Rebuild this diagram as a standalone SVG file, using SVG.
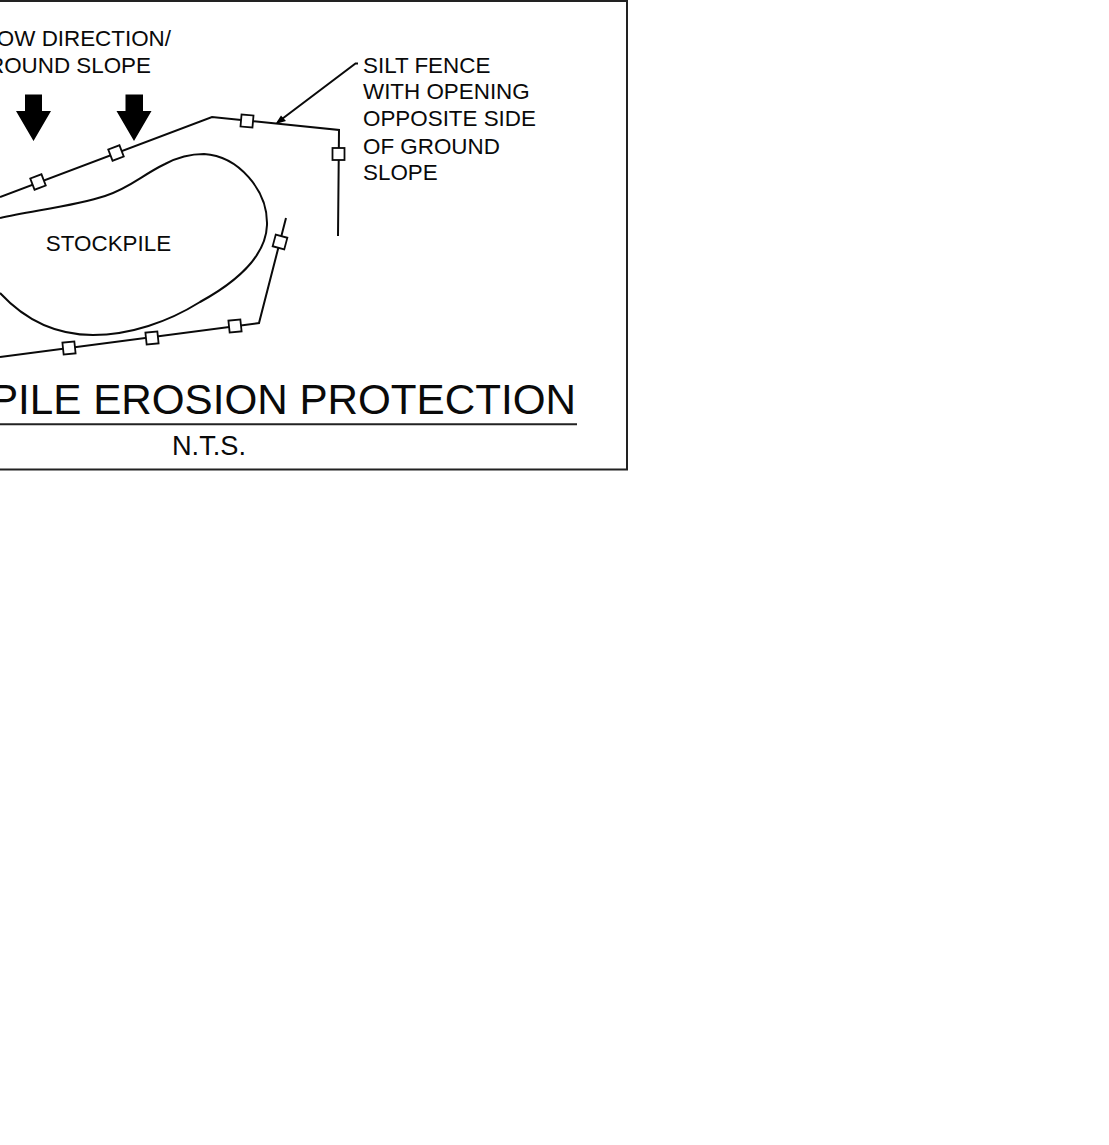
<svg xmlns="http://www.w3.org/2000/svg" width="1109" height="1145" viewBox="0 0 1109 1145">
<style>
text{font-family:"Liberation Sans",Arial,sans-serif;fill:#0a0a0a}
.l{font-size:22.4px}
.n{font-size:27.2px}
.t{font-size:42.2px}
.s{fill:none;stroke:#0a0a0a;stroke-width:2;stroke-linejoin:miter}
.m{fill:#fff;stroke:#0a0a0a;stroke-width:1.8}
.f{fill:#000;stroke:none}
</style>
<rect width="1109" height="1145" fill="#fff"/>
<g id="frame"><path d="M-5 1H627V469.500H-5" fill="none" stroke="#222" stroke-width="2"/></g>
<g id="stockpile">
<path class="s" d="M0 218C30 211 75 206 105 196C130 188 142 175 165 164C178 157 190 154 204 154C238 156 268 190 267 225C266 254 240 280 200 302C168 322 130 335 93 335C55 335 25 320 0 293"/>
<text class="l" x="108.500" y="251" text-anchor="middle">STOCKPILE</text>
</g>
<g id="connectors">
<path class="s" d="M0 197L212 117L339 130L338 236"/>
<path class="s" d="M286 218L259 323L0 357"/>
<path class="s" d="M358 63.500H355.500L278 122"/>
<path class="f" d="M275.500 124L281 115.500L286 121Z"/>
</g>
<g id="fence-posts">
<rect class="m" x="-6" y="-6" width="12" height="12" transform="translate(38 182) rotate(-21)"/>
<rect class="m" x="-6" y="-6" width="12" height="12" transform="translate(116 153) rotate(-21)"/>
<rect class="m" x="-6" y="-6" width="12" height="12" transform="translate(247 121) rotate(5)"/>
<rect class="m" x="-6" y="-6" width="12" height="12" transform="translate(338.500 154)"/>
<rect class="m" x="-6" y="-6" width="12" height="12" transform="translate(280 242) rotate(15)"/>
<rect class="m" x="-6" y="-6" width="12" height="12" transform="translate(235 326) rotate(-6)"/>
<rect class="m" x="-6" y="-6" width="12" height="12" transform="translate(152 338) rotate(-6)"/>
<rect class="m" x="-6" y="-6" width="12" height="12" transform="translate(69 348) rotate(-6)"/>
</g>
<g id="flow-arrows">
<path class="f" d="M25 94.500H42V111H51L33.500 141L16 111H25Z"/>
<path class="f" d="M125.500 94.500H143V111H151.500L134 141L116.500 111H125.500Z"/>
</g>
<g id="flow-label">
<text class="l" x="171" y="46" text-anchor="end">OW DIRECTION/</text>
<text class="l" x="151" y="73" text-anchor="end">ROUND SLOPE</text>
</g>
<g id="silt-label">
<text class="l" x="363" y="73">SILT FENCE</text>
<text class="l" x="363" y="99">WITH OPENING</text>
<text class="l" x="363" y="126">OPPOSITE SIDE</text>
<text class="l" x="363" y="154">OF GROUND</text>
<text class="l" x="363" y="180">SLOPE</text>
</g>
<g id="title">
<text class="t" x="576" y="414" text-anchor="end">PILE EROSION PROTECTION</text>
<path d="M0 424.300H577" stroke="#222" stroke-width="2" fill="none"/>
<text class="n" x="209" y="454.500" text-anchor="middle">N.T.S.</text>
</g>
</svg>
